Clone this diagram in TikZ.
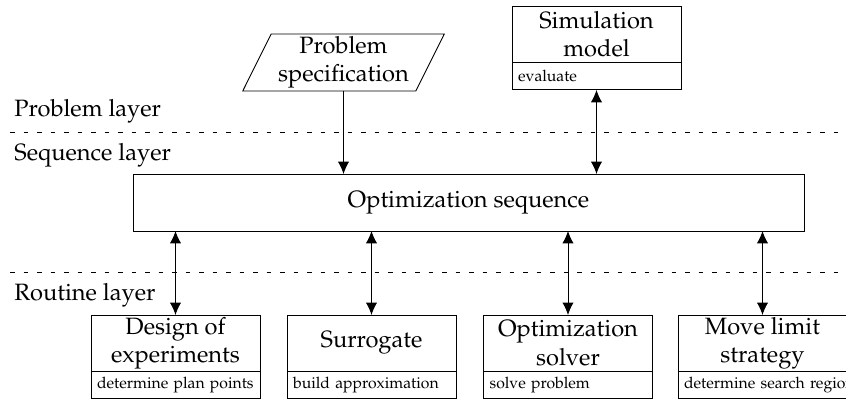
\documentclass[tikz,border=0pt]{standalone}
\usepackage[T1]{fontenc}
\usepackage{mathpazo}
\usepackage{tikz}
\usetikzlibrary{arrows.meta}
\usetikzlibrary{positioning}
\usetikzlibrary{shapes.geometric}

\tikzset{
	block/.style={draw, minimum width=75.1pt, minimum height=24.9pt, inner sep=0pt, outer sep=0pt, align=center},
	task/.style={draw, minimum width=75.1pt, minimum height=12.4pt, inner xsep=2.7pt, inner ysep=0pt, outer sep=0pt, text width=69.7pt, align=left, font=\fontsize{7}{8.4}\selectfont},
	layer/.style={anchor=west, inner sep=0pt},
	border/.style={dash pattern=on 2pt off 4pt},
}

\begin{document}
\begin{tikzpicture}[x=0.4444pt, y=-0.4444pt, font=\fontsize{10.5}{12.6}\selectfont, >={Latex[length=5.5pt,width=5pt]}]
	\useasboundingbox (0,0) rectangle (846,401);
	
	%Layers
	\node[layer] (problem-layer) at (14,111) {Problem layer};
	\node[layer] (sequence-layer) at (14,155) {Sequence layer};
	\node[layer] (routine-layer) at (14,295) {Routine layer};
	\draw[border] (10,132)--(846,132);
	\draw[border] (10,272)--(846,272);
	
	%Problem layer
	\node[draw, trapezium, trapezium left angle=63.8, trapezium right angle=116.2, trapezium stretches, minimum width=90pt, minimum height=25.3pt, inner sep=0pt, outer sep=0pt, align=center] (spec) at (343.5,62.5) {Problem\\specification};
	\node[block] (sim) at (596.5,34) {Simulation\\model};
	\node[task, below=0pt of sim] (sim-task) {evaluate};
	
	%Sequence layer
	\node[draw, minimum width=298.2pt, minimum height=25.3pt, outer sep=0pt] (seq) at (468.5,202.5) {Optimization sequence};
	
	%Routine layer
	\node[block] (doe) at (175.5,343) {Design of\\experiments};
	\node[task, below=0pt of doe] (doe-task) {determine plan points};
	\node[block] (sur) at (371.5,343) {Surrogate};
	\node[task, below=0pt of sur] (sur-task) {build approximation};
	\node[block] (sol) at (568,343) {Optimization\\solver};
	\node[task, below=0pt of sol] (sol-task) {solve problem};
	\node[block] (mls) at (762.5,343) {Move limit\\strategy};
	\node[task, below=0pt of mls, inner xsep=1.2pt] (mls-task) {\mbox{determine search region}};
	
	%connections
	\draw[->] (spec.south)--(spec.south |- seq.north);
	\draw[<->] (sim-task.south)--(sim-task.south |- seq.north);
	\foreach \n in {doe,sur,sol,mls}
		\draw[<->] (seq.south -| \n.north)--(\n.north);
	
\end{tikzpicture}
\end{document}
